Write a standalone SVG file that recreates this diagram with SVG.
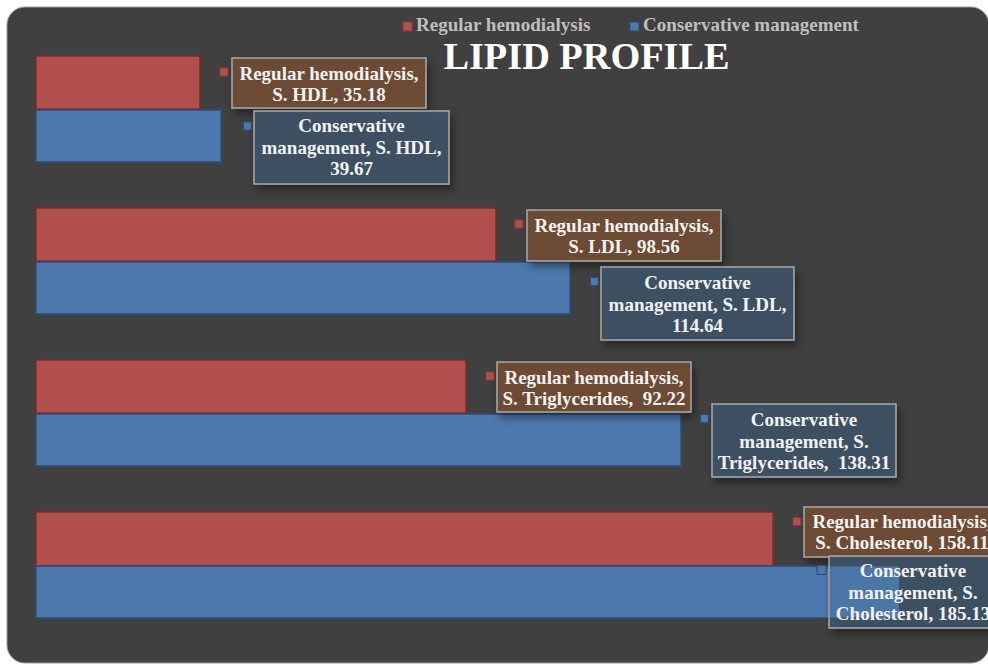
<svg xmlns="http://www.w3.org/2000/svg" width="988" height="664" viewBox="0 0 988 664">
<defs>
<filter id="sh" x="-20%" y="-20%" width="150%" height="160%">
<feDropShadow dx="3" dy="5" stdDeviation="4" flood-color="#000" flood-opacity="0.45"/>
</filter>
<style>
.t{font-family:"Liberation Serif","Times New Roman",serif;font-weight:bold}
.lg{font-size:19px;fill:#bfbfbf}
.lb{font-size:19px;fill:#f2f2f2;text-anchor:middle}
.rb{fill:#b3504d;stroke:#7c2d2b;stroke-width:1.5}
.bb{fill:#4e79ae;stroke:#2c4d75;stroke-width:1.5}
.rbox{fill:#6f4b34;fill-opacity:0.93;stroke:#a8a8a8;stroke-width:1.5}
.bbox{fill:#3f5367;fill-opacity:0.9;stroke:#a8a8a8;stroke-width:1.5}
.rm{fill:#b3504d;stroke:#8c3a38;stroke-width:1}
.bm{fill:#4e79ae;stroke:#2c4d75;stroke-width:1}
</style>
</defs>
<rect width="988" height="664" fill="#ffffff"/>
<rect id="background" x="7" y="7" width="982" height="656" rx="18" fill="#404040" stroke="#9a9a9a" stroke-width="1"/>

<g id="legend">
<rect x="403" y="22" width="9" height="9" class="rm"/>
<text class="t lg" x="416" y="31">Regular hemodialysis</text>
<rect x="630" y="22" width="9" height="9" class="bm"/>
<text class="t lg" x="643" y="31">Conservative management</text>
</g>
<text id="title" class="t" x="586.5" y="69" font-size="38.3" fill="#ffffff" text-anchor="middle">LIPID PROFILE</text>

<g id="bars">
<g id="bar-hdl-rh"><rect class="rb" x="36" y="56" width="164" height="53"/></g>
<g id="bar-hdl-cm"><rect class="bb" x="36" y="110" width="185" height="52"/></g>
<g id="bar-ldl-rh"><rect class="rb" x="36" y="208" width="460" height="53"/></g>
<g id="bar-ldl-cm"><rect class="bb" x="36" y="262" width="534" height="52"/></g>
<g id="bar-tg-rh"><rect class="rb" x="36" y="360" width="430" height="53"/></g>
<g id="bar-tg-cm"><rect class="bb" x="36" y="414" width="645" height="52"/></g>
<g id="bar-chol-rh"><rect class="rb" x="36" y="512" width="737" height="54"/></g>
<g id="bar-chol-cm"><rect class="bb" x="36" y="566" width="863" height="52"/></g>
</g>

<g id="labels">
<g id="label-hdl-rh">
<rect class="rm" x="220" y="68" width="8" height="8"/>
<rect class="rbox" x="232" y="58" width="194" height="50" filter="url(#sh)"/>
<text class="t lb" x="329" y="79.5">Regular hemodialysis,</text>
<text class="t lb" x="329" y="100.5">S. HDL, 35.18</text>
</g>
<g id="label-hdl-cm">
<rect class="bm" x="243.5" y="122" width="8" height="8"/>
<rect class="bbox" x="254" y="111" width="195" height="73" filter="url(#sh)"/>
<text class="t lb" x="351.5" y="132">Conservative</text>
<text class="t lb" x="351.5" y="153.5">management, S. HDL,</text>
<text class="t lb" x="351.5" y="175">39.67</text>
</g>
<g id="label-ldl-rh">
<rect class="rm" x="515" y="220" width="8" height="8"/>
<rect class="rbox" x="527" y="210" width="194" height="51" filter="url(#sh)"/>
<text class="t lb" x="624" y="232">Regular hemodialysis,</text>
<text class="t lb" x="624" y="253">S. LDL, 98.56</text>
</g>
<g id="label-ldl-cm">
<rect class="bm" x="590.5" y="277.5" width="8" height="8"/>
<rect class="bbox" x="601" y="267" width="193" height="73" filter="url(#sh)"/>
<text class="t lb" x="697.5" y="289">Conservative</text>
<text class="t lb" x="697.5" y="310.5">management, S. LDL,</text>
<text class="t lb" x="697.5" y="332">114.64</text>
</g>
<g id="label-tg-rh">
<rect class="rm" x="486" y="372" width="8" height="8"/>
<rect class="rbox" x="497" y="362" width="194" height="50" filter="url(#sh)"/>
<text class="t lb" x="594" y="384">Regular hemodialysis,</text>
<text class="t lb" x="594" y="405">S. Triglycerides,&#160; 92.22</text>
</g>
<g id="label-tg-cm">
<rect class="bm" x="700.5" y="414.5" width="8" height="8"/>
<rect class="bbox" x="712" y="404" width="184" height="73" filter="url(#sh)"/>
<text class="t lb" x="804" y="426">Conservative</text>
<text class="t lb" x="804" y="447.5">management, S.</text>
<text class="t lb" x="804" y="469">Triglycerides,&#160; 138.31</text>
</g>
<g id="label-chol-rh">
<rect class="rm" x="793" y="517.5" width="8" height="8"/>
<rect class="rbox" x="804" y="507" width="196" height="50" filter="url(#sh)"/>
<text class="t lb" x="902" y="528">Regular hemodialysis,</text>
<text class="t lb" x="902" y="549">S. Cholesterol, 158.11</text>
</g>
<g id="label-chol-cm">
<rect class="bm" x="817" y="565.5" width="9" height="9" stroke="#1f3a5c"/>
<rect class="bbox" x="829" y="556" width="170" height="72" fill-opacity="0.85" filter="url(#sh)"/>
<rect x="830" y="566.5" width="69" height="51" fill="#4f7cb3" fill-opacity="0.85"/>
<text class="t lb" x="913" y="577">Conservative</text>
<text class="t lb" x="913" y="598.5">management, S.</text>
<text class="t lb" x="913" y="620">Cholesterol, 185.13</text>
</g>
</g>
</svg>
